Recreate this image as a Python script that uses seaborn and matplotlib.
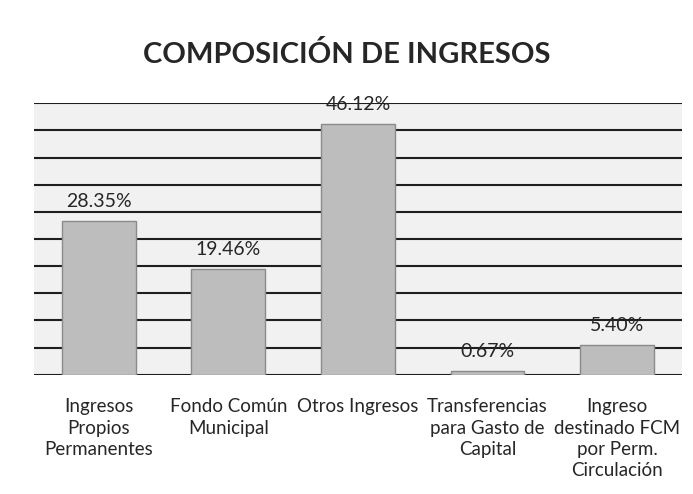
import matplotlib
matplotlib.use("Agg")
import matplotlib.pyplot as plt
import seaborn as sns
import pandas as pd

categorias = ["Ingresos\nPropios\nPermanentes", "Fondo Común\nMunicipal", "Otros Ingresos",
              "Transferencias\npara Gasto de\nCapital", "Ingreso\ndestinado FCM\npor Perm.\nCirculación"]
porcentajes = [28.35, 19.46, 46.12, 0.67, 5.40]
etiquetas = ["28.35%", "19.46%", "46.12%", "0.67%", "5.40%"]

df = pd.DataFrame({"cat": categorias, "pct": porcentajes})

sns.set_theme(style="white")
plt.rcParams['font.family'] = ['Lato', 'DejaVu Sans']

fig = plt.figure(figsize=(6.93, 4.94), dpi=100)
ax = fig.add_axes([0.049, 0.2415, 0.935, 0.5495])
ax.set_facecolor("#f1f1f1")

sns.barplot(data=df, x="cat", y="pct", color="#bdbdbd", width=0.57,
            edgecolor="#8a8a8a", linewidth=1, saturation=1, ax=ax, zorder=3)

ax.set_ylim(0, 50)
ax.set_xlim(-0.5, 4.5)
ax.set_yticks(range(0, 51, 5))
ax.yaxis.grid(True, color="#1e1e1e", linewidth=1.5)
ax.set_axisbelow(True)
ax.tick_params(axis="y", left=False, labelleft=False)
ax.tick_params(axis="x", bottom=False, labelsize=13.5, pad=11)
for lbl in ax.get_xticklabels():
    lbl.set_linespacing(1.3)
ax.set_xlabel("")
ax.set_ylabel("")
for s in ax.spines.values():
    s.set_visible(False)

for i, (v, t) in enumerate(zip(porcentajes, etiquetas)):
    ax.annotate(t, (i, v), xytext=(0, 8), textcoords="offset points",
                ha="center", va="bottom", fontsize=14, zorder=4)

fig.text(0.5, 0.889, "COMPOSICIÓN DE INGRESOS", ha="center", va="center",
         fontsize=21, fontweight="bold")

fig.savefig("out.png", dpi=100)
